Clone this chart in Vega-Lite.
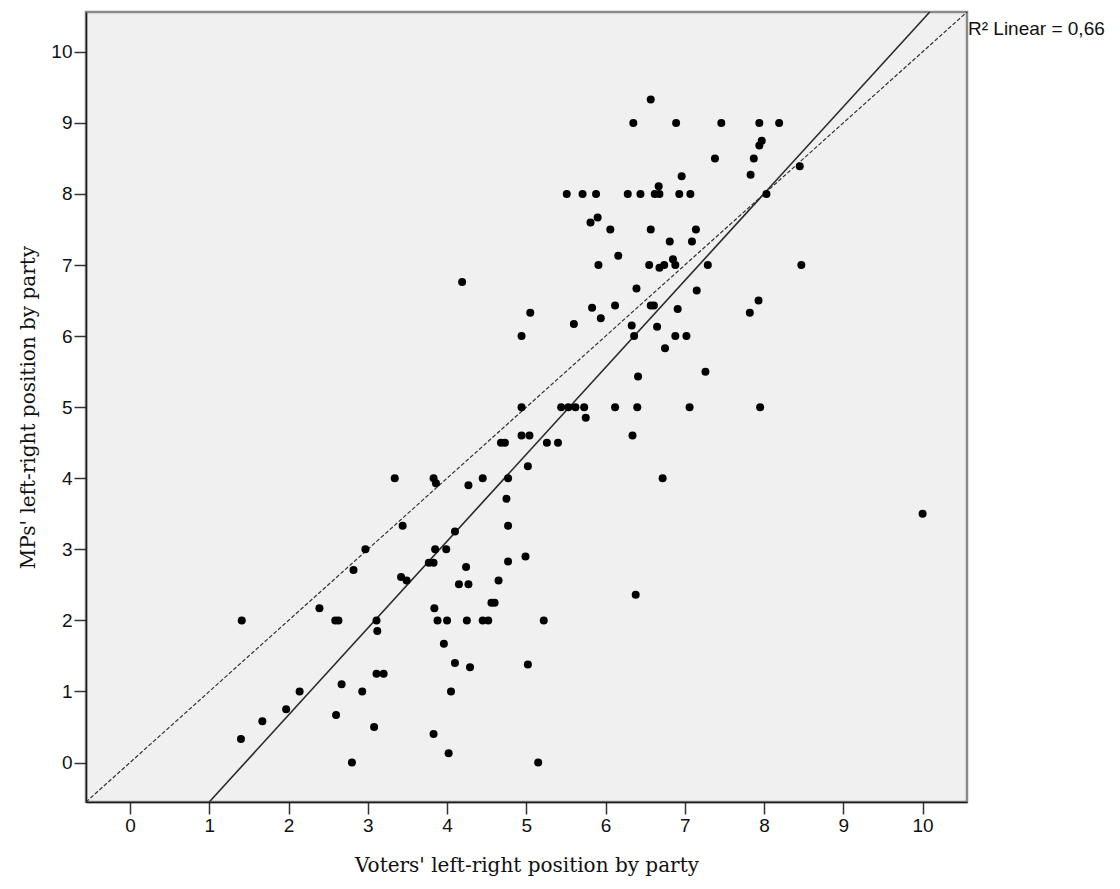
{
  "$schema": "https://vega.github.io/schema/vega-lite/v6.json",
  "width": 881,
  "height": 790,
  "autosize": {"type": "none"},
  "padding": {"left": 86, "top": 12, "right": 153, "bottom": 87},
  "background": "white",
  "config": {
    "view": {"fill": "#f0f0f0", "stroke": "#8a8a8a", "strokeWidth": 2.5},
    "axis": {
      "grid": false,
      "domain": true,
      "domainColor": "#1a1a1a",
      "domainWidth": 1.5,
      "tickColor": "#333333",
      "tickWidth": 1.5,
      "tickSize": 12,
      "labelFont": "Liberation Sans",
      "labelFontSize": 19,
      "labelColor": "#111111",
      "titleFont": "DejaVu Serif",
      "titleFontSize": 20,
      "titleFontWeight": "normal",
      "titleColor": "#111111"
    }
  },
  "datasets": {
    "pts": [
      {"voters": 1.40, "mps": 0.33}, {"voters": 1.41, "mps": 2.0}, {"voters": 1.67, "mps": 0.58}, {"voters": 1.97, "mps": 0.75},
      {"voters": 2.14, "mps": 1.0}, {"voters": 2.39, "mps": 2.17}, {"voters": 2.59, "mps": 2.0}, {"voters": 2.63, "mps": 2.0},
      {"voters": 2.60, "mps": 0.67}, {"voters": 2.67, "mps": 1.1}, {"voters": 2.80, "mps": 0.0}, {"voters": 2.82, "mps": 2.71},
      {"voters": 2.93, "mps": 1.0}, {"voters": 2.97, "mps": 3.0}, {"voters": 3.08, "mps": 0.5}, {"voters": 3.11, "mps": 2.0},
      {"voters": 3.12, "mps": 1.85}, {"voters": 3.11, "mps": 1.25}, {"voters": 3.20, "mps": 1.25}, {"voters": 3.34, "mps": 4.0},
      {"voters": 3.42, "mps": 2.61}, {"voters": 3.49, "mps": 2.56}, {"voters": 3.44, "mps": 3.33}, {"voters": 3.77, "mps": 2.81},
      {"voters": 3.83, "mps": 2.81}, {"voters": 3.83, "mps": 4.0}, {"voters": 3.86, "mps": 3.93}, {"voters": 3.85, "mps": 3.0},
      {"voters": 3.84, "mps": 2.17}, {"voters": 3.83, "mps": 0.4}, {"voters": 3.88, "mps": 2.0}, {"voters": 3.99, "mps": 3.0},
      {"voters": 3.96, "mps": 1.67}, {"voters": 4.0, "mps": 2.0}, {"voters": 4.02, "mps": 0.13}, {"voters": 4.05, "mps": 1.0},
      {"voters": 4.10, "mps": 1.4}, {"voters": 4.10, "mps": 3.25}, {"voters": 4.15, "mps": 2.51}, {"voters": 4.19, "mps": 6.76},
      {"voters": 4.24, "mps": 2.75}, {"voters": 4.25, "mps": 2.0}, {"voters": 4.27, "mps": 2.51}, {"voters": 4.29, "mps": 1.34},
      {"voters": 4.27, "mps": 3.9}, {"voters": 4.45, "mps": 4.0}, {"voters": 4.45, "mps": 2.0}, {"voters": 4.52, "mps": 2.0},
      {"voters": 4.56, "mps": 2.25}, {"voters": 4.60, "mps": 2.25}, {"voters": 4.65, "mps": 2.56}, {"voters": 4.68, "mps": 4.5},
      {"voters": 4.73, "mps": 4.5}, {"voters": 4.77, "mps": 4.0}, {"voters": 4.75, "mps": 3.71}, {"voters": 4.77, "mps": 3.33},
      {"voters": 4.77, "mps": 2.83}, {"voters": 4.94, "mps": 6.0}, {"voters": 4.94, "mps": 5.0}, {"voters": 4.94, "mps": 4.6},
      {"voters": 5.04, "mps": 4.6}, {"voters": 4.99, "mps": 2.9}, {"voters": 5.02, "mps": 1.38}, {"voters": 5.02, "mps": 4.17},
      {"voters": 5.05, "mps": 6.33}, {"voters": 5.15, "mps": 0.0}, {"voters": 5.22, "mps": 2.0}, {"voters": 5.26, "mps": 4.5},
      {"voters": 5.40, "mps": 4.5}, {"voters": 5.51, "mps": 8.0}, {"voters": 5.44, "mps": 5.0}, {"voters": 5.53, "mps": 5.0},
      {"voters": 5.62, "mps": 5.0}, {"voters": 5.73, "mps": 5.0}, {"voters": 5.60, "mps": 6.17}, {"voters": 5.75, "mps": 4.85},
      {"voters": 5.71, "mps": 8.0}, {"voters": 5.81, "mps": 7.6}, {"voters": 5.83, "mps": 6.4}, {"voters": 5.88, "mps": 8.0},
      {"voters": 5.90, "mps": 7.67}, {"voters": 5.91, "mps": 7.0}, {"voters": 5.94, "mps": 6.25}, {"voters": 6.06, "mps": 7.5},
      {"voters": 6.12, "mps": 5.0}, {"voters": 6.12, "mps": 6.43}, {"voters": 6.16, "mps": 7.13}, {"voters": 6.28, "mps": 8.0},
      {"voters": 6.35, "mps": 9.0}, {"voters": 6.34, "mps": 4.6}, {"voters": 6.33, "mps": 6.15}, {"voters": 6.36, "mps": 6.0},
      {"voters": 6.38, "mps": 2.36}, {"voters": 6.39, "mps": 6.67}, {"voters": 6.40, "mps": 5.0}, {"voters": 6.41, "mps": 5.43},
      {"voters": 6.44, "mps": 8.0}, {"voters": 6.57, "mps": 9.33}, {"voters": 6.57, "mps": 7.5}, {"voters": 6.55, "mps": 7.0},
      {"voters": 6.57, "mps": 6.43}, {"voters": 6.61, "mps": 6.43}, {"voters": 6.62, "mps": 8.0}, {"voters": 6.68, "mps": 8.0},
      {"voters": 6.67, "mps": 8.11}, {"voters": 6.65, "mps": 6.13}, {"voters": 6.68, "mps": 6.96}, {"voters": 6.72, "mps": 4.0},
      {"voters": 6.75, "mps": 5.83}, {"voters": 6.74, "mps": 7.0}, {"voters": 6.81, "mps": 7.33}, {"voters": 6.85, "mps": 7.08},
      {"voters": 6.88, "mps": 7.0}, {"voters": 6.89, "mps": 9.0}, {"voters": 6.88, "mps": 6.0}, {"voters": 6.91, "mps": 6.38},
      {"voters": 6.93, "mps": 8.0}, {"voters": 6.96, "mps": 8.25}, {"voters": 7.02, "mps": 6.0}, {"voters": 7.06, "mps": 5.0},
      {"voters": 7.07, "mps": 8.0}, {"voters": 7.09, "mps": 7.33}, {"voters": 7.14, "mps": 7.5}, {"voters": 7.15, "mps": 6.64},
      {"voters": 7.26, "mps": 5.5}, {"voters": 7.29, "mps": 7.0}, {"voters": 7.38, "mps": 8.5}, {"voters": 7.46, "mps": 9.0},
      {"voters": 7.82, "mps": 6.33}, {"voters": 7.83, "mps": 8.27}, {"voters": 7.87, "mps": 8.5}, {"voters": 7.93, "mps": 6.5},
      {"voters": 7.94, "mps": 8.68}, {"voters": 7.94, "mps": 9.0}, {"voters": 7.97, "mps": 8.75}, {"voters": 7.95, "mps": 5.0},
      {"voters": 8.03, "mps": 8.0}, {"voters": 8.19, "mps": 9.0}, {"voters": 8.45, "mps": 8.39}, {"voters": 8.47, "mps": 7.0},
      {"voters": 10.0, "mps": 3.5}
    ],
    "fit": [{"voters": 1.0, "mps": -0.555}, {"voters": 10.09, "mps": 10.56}],
    "ref": [{"voters": -0.555, "mps": -0.555}, {"voters": 10.56, "mps": 10.56}],
    "label": [{"voters": 10.56, "mps": 10.235, "text": "R² Linear = 0,66"}]
  },
  "encoding": {
    "x": {
      "field": "voters", "type": "quantitative",
      "scale": {"domain": [-0.555, 10.56], "nice": false, "zero": false},
      "axis": {"values": [0,1,2,3,4,5,6,7,8,9,10], "title": "Voters' left-right position by party", "labelPadding": 2, "titlePadding": 20}
    },
    "y": {
      "field": "mps", "type": "quantitative",
      "scale": {"domain": [-0.555, 10.56], "nice": false, "zero": false},
      "axis": {"values": [0,1,2,3,4,5,6,7,8,9,10], "title": "MPs' left-right position by party", "labelPadding": 2, "titlePadding": 12}
    }
  },
  "layer": [
    {
      "data": {"name": "ref"},
      "mark": {"type": "line", "color": "#333333", "strokeWidth": 1.2, "strokeDash": [4, 2]},
      "encoding": {}
    },
    {
      "data": {"name": "fit"},
      "mark": {"type": "line", "color": "#2a2a2a", "strokeWidth": 1.6},
      "encoding": {}
    },
    {
      "data": {"name": "pts"},
      "mark": {"type": "circle", "color": "#000000", "opacity": 1, "size": 64}
    },
    {
      "data": {"name": "label"},
      "mark": {"type": "text", "align": "left", "baseline": "alphabetic", "dx": 1, "font": "Liberation Sans", "fontSize": 19, "color": "#111111"},
      "encoding": {"text": {"field": "text"}}
    }
  ]
}
